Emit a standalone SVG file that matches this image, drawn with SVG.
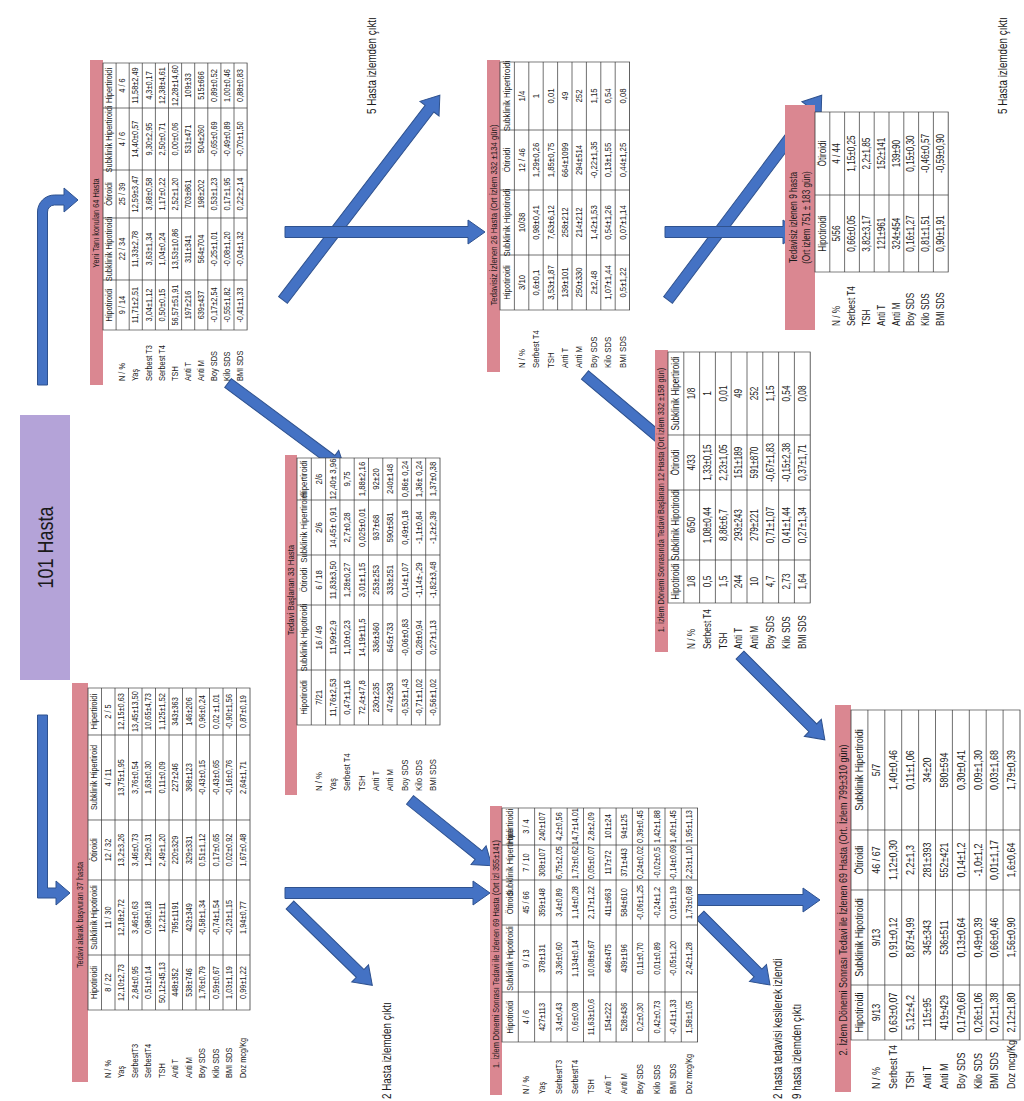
<svg xmlns="http://www.w3.org/2000/svg" width="1024" height="1101" viewBox="0 0 1024 1101">
<style>
.f{font-family:'Liberation Sans',Arial,sans-serif;fill:#1a1a1a;text-anchor:middle;dominant-baseline:central}
.hdr{fill:#da8791}
.grid{fill:#fff;stroke:#3a3a3a;stroke-width:0.8}
.gl{fill:none;stroke:#3a3a3a;stroke-width:0.8}
.l{text-anchor:start}
.side{font-size:12px;text-anchor:start}
.arr path{fill:#4472c4;stroke:#2f528f;stroke-width:1}
</style>
<rect width="1024" height="1101" fill="#fff"/>
<g id="connectors" class="arr">
<path d="M37.5,385 L37.5,212 A17,17 0 0 1 54.5,195 L64,195 L64,188 L78,200 L64,212 L64,205 L54.5,205 A7,7 0 0 0 47.5,212 L47.5,385 Z"/>
<path d="M37.5,715 L47.5,715 L47.5,888 L56,888 L56,881 L70,893 L56,905 L56,898 L37.5,898 Z"/>
<g transform="translate(283,300) rotate(-52.56)"><path d="M0,-5.5H241V-12L258,0L241,12V5.5H0Z"/></g>
<g transform="translate(285,232)"><path d="M0,-5.5H183V-12L200,0L183,12V5.5H0Z"/></g>
<g transform="translate(228,383) rotate(36.6)"><path d="M0,-5.5H129V-12L146,0L129,12V5.5H0Z"/></g>
<g transform="translate(668,300) rotate(-53.1)"><path d="M0,-5.5H239V-12L256,0L239,12V5.5H0Z"/></g>
<g transform="translate(665,232)"><path d="M0,-5.5H118V-12L135,0L118,12V5.5H0Z"/></g>
<g transform="translate(585,375) rotate(40.1)"><path d="M0,-5.5H107V-12L124,0L107,12V5.5H0Z"/></g>
<g transform="translate(410,800) rotate(38.8)"><path d="M0,-5.5H88V-12L105,0L88,12V5.5H0Z"/></g>
<g transform="translate(285,893)"><path d="M0,-5.5H188V-12L205,0L188,12V5.5H0Z"/></g>
<g transform="translate(290,905) rotate(44.3)"><path d="M0,-5.5H98V-12L115,0L98,12V5.5H0Z"/></g>
<g transform="translate(740,655) rotate(45)"><path d="M0,-5.5H103V-12L120,0L103,12V5.5H0Z"/></g>
<g transform="translate(693,900)"><path d="M0,-5.5H110V-12L127,0L110,12V5.5H0Z"/></g>
<g transform="translate(700,915) rotate(45)"><path d="M0,-5.5H82V-12L99,0L82,12V5.5H0Z"/></g>
</g>
<g class="f" transform="translate(0,1101) rotate(-90)">
<g id="n101"><rect x="421" y="20" width="265" height="50" fill="#b4a3d8"/><text transform="translate(553.5,45) scale(0.82,1)" font-size="22">101 Hasta</text></g>
<g id="notes">
<text class="side" transform="translate(987,372) scale(0.82,1)">5 Hasta izlemden çıktı</text>
<text class="side" transform="translate(987,1003) scale(0.82,1)">5 Hasta izlemden çıktı</text>
<text class="side" transform="translate(2,387) scale(0.82,1)">2 Hasta izlemden çıktı</text>
<text class="side" transform="translate(2,778) scale(0.82,1)">2 hasta tedavisi kesilerek izlendi</text>
<text class="side" transform="translate(2,797) scale(0.82,1)">9 hasta izlemden çıktı</text>
</g>

<g id="t1" transform="translate(771,103) scale(0.82,1)" font-size="9">
<rect class="hdr" x="-67.07" y="-13" width="396.34" height="13"/>
<text x="130.49" y="-6.5">Yeni Tanı konulan 64 Hasta</text>
<rect class="grid" x="0" y="0" width="325.61" height="144.1"/>
<path class="gl" d="M0,13.1H325.61M0,26.2H325.61M0,39.3H325.61M0,52.4H325.61M0,65.5H325.61M0,78.6H325.61M0,91.7H325.61M0,104.8H325.61M0,117.9H325.61M0,131H325.61M60.98,0V144.1M136.59,0V144.1M195.12,0V144.1M270.73,0V144.1"/>
<g transform="translate(0,6.55)"><text x="30.49">Hipotiroidi</text><text x="98.78">Subklinik Hipotiroidi</text><text x="165.85">Ötiroidi</text><text x="232.93">Subklinik Hipertiroidi</text><text x="298.17">Hipertiroidi</text></g>
<g transform="translate(0,19.65)"><text class="l" x="-62.2">N / %</text><text x="30.49">9 / 14</text><text x="98.78">22 / 34</text><text x="165.85">25 / 39</text><text x="232.93">4 / 6</text><text x="298.17">4 / 6</text></g>
<g transform="translate(0,32.75)"><text class="l" x="-62.2">Yaş</text><text x="30.49">11,71±2,51</text><text x="98.78">11,33±2,78</text><text x="165.85">12,59±3,47</text><text x="232.93">14,40±0,57</text><text x="298.17">11,58±2,49</text></g>
<g transform="translate(0,45.85)"><text class="l" x="-62.2">Serbest T3</text><text x="30.49">3,04±1,12</text><text x="98.78">3,63±1,34</text><text x="165.85">3,68±0,58</text><text x="232.93">9,30±2,95</text><text x="298.17">4,3±0,17</text></g>
<g transform="translate(0,58.95)"><text class="l" x="-62.2">Serbest T4</text><text x="30.49">0,50±0,15</text><text x="98.78">1,04±0,24</text><text x="165.85">1,17±0,22</text><text x="232.93">2,50±0,71</text><text x="298.17">12,38±4,61</text></g>
<g transform="translate(0,72.05)"><text class="l" x="-62.2">TSH</text><text x="30.49">56,57±51,91</text><text x="98.78">13,53±10,86</text><text x="165.85">2,52±1,20</text><text x="232.93">0,00±0,06</text><text x="298.17">12,28±14,60</text></g>
<g transform="translate(0,85.15)"><text class="l" x="-62.2">Anti T</text><text x="30.49">197±216</text><text x="98.78">311±341</text><text x="165.85">703±861</text><text x="232.93">531±471</text><text x="298.17">109±33</text></g>
<g transform="translate(0,98.25)"><text class="l" x="-62.2">Anti M</text><text x="30.49">639±437</text><text x="98.78">564±704</text><text x="165.85">198±202</text><text x="232.93">504±260</text><text x="298.17">515±666</text></g>
<g transform="translate(0,111.35)"><text class="l" x="-62.2">Boy SDS</text><text x="30.49">-0,17±2,54</text><text x="98.78">-0,25±1,01</text><text x="165.85">0,53±1,23</text><text x="232.93">-0,65±0,69</text><text x="298.17">0,89±0,52</text></g>
<g transform="translate(0,124.45)"><text class="l" x="-62.2">Kilo SDS</text><text x="30.49">-0,55±1,82</text><text x="98.78">-0,08±1,20</text><text x="165.85">0,17±1,95</text><text x="232.93">-0,49±0,89</text><text x="298.17">1,00±0,46</text></g>
<g transform="translate(0,137.55)"><text class="l" x="-62.2">BMI SDS</text><text x="30.49">-0,41±1,33</text><text x="98.78">-0,04±1,32</text><text x="165.85">0,22±2,14</text><text x="232.93">-0,70±1,50</text><text x="298.17">0,88±0,83</text></g>
</g>

<g id="t2" transform="translate(376,297) scale(0.82,1)" font-size="9.5">
<rect class="hdr" x="-85.37" y="-12" width="414.63" height="12"/>
<text x="164.63" y="-6">Tedavi Başlanan 33 Hasta</text>
<rect class="grid" x="0" y="0" width="325.61" height="143"/>
<path class="gl" d="M0,14.3H325.61M0,28.6H325.61M0,42.9H325.61M0,57.2H325.61M0,71.5H325.61M0,85.8H325.61M0,100.1H325.61M0,114.4H325.61M0,128.7H325.61M67.07,0V143M146.34,0V143M207.32,0V143M274.39,0V143"/>
<g transform="translate(0,7.15)"><text x="33.54">Hipotiroidi</text><text x="106.71">Subklinik Hipotiroidi</text><text x="176.83">Ötiroidi</text><text x="240.85">Subklinik Hipertiroidi</text><text x="300">Hipertiroidi</text></g>
<g transform="translate(0,21.45)"><text class="l" x="-80.49">N / %</text><text x="33.54">7/21</text><text x="106.71">16 / 49</text><text x="176.83">6 / 18</text><text x="240.85">2/6</text><text x="300">2/6</text></g>
<g transform="translate(0,35.75)"><text class="l" x="-80.49">Yaş</text><text x="33.54">11,76±2,53</text><text x="106.71">11,99±2,9</text><text x="176.83">11,83±3,50</text><text x="240.85">14,45± 0,91</text><text x="300">12,40± 3,96</text></g>
<g transform="translate(0,50.05)"><text class="l" x="-80.49">Serbest T4</text><text x="33.54">0,47±1,16</text><text x="106.71">1,10±0,23</text><text x="176.83">1,28±0,27</text><text x="240.85">2,7±0,28</text><text x="300">9,75</text></g>
<g transform="translate(0,64.35)"><text class="l" x="-80.49">TSH</text><text x="33.54">72,4±47,8</text><text x="106.71">14,19±11,5</text><text x="176.83">3,01±1,15</text><text x="240.85">0,025±0,01</text><text x="300">1,88±2,16</text></g>
<g transform="translate(0,78.65)"><text class="l" x="-80.49">Anti T</text><text x="33.54">230±235</text><text x="106.71">336±360</text><text x="176.83">253±253</text><text x="240.85">937±68</text><text x="300">92±20</text></g>
<g transform="translate(0,92.95)"><text class="l" x="-80.49">Anti M</text><text x="33.54">474±293</text><text x="106.71">645±733</text><text x="176.83">333±251</text><text x="240.85">590±581</text><text x="300">240±148</text></g>
<g transform="translate(0,107.25)"><text class="l" x="-80.49">Boy SDS</text><text x="33.54">-0,53±1,43</text><text x="106.71">-0,06±0,83</text><text x="176.83">0,14±1,07</text><text x="240.85">0,49±0,18</text><text x="300">0,86± 0,24</text></g>
<g transform="translate(0,121.55)"><text class="l" x="-80.49">Kilo SDS</text><text x="33.54">-0,71±1,02</text><text x="106.71">0,28±0,94</text><text x="176.83">-1,14±-,29</text><text x="240.85">-1,1±0,84</text><text x="300">1,36± 0,24</text></g>
<g transform="translate(0,135.85)"><text class="l" x="-80.49">BMI SDS</text><text x="33.54">-0,56±1,02</text><text x="106.71">0,27±1,13</text><text x="176.83">-1,82±3,48</text><text x="240.85">-1,2±2,39</text><text x="300">1,37±0,38</text></g>
</g>

<g id="t3" transform="translate(91,88) scale(0.82,1)" font-size="9">
<rect class="hdr" x="-87.8" y="-16" width="486.59" height="16"/>
<text x="115.85" y="-7.5">Tedavi alarak başvuran 37  hasta</text>
<rect class="grid" x="0" y="0" width="392.68" height="162"/>
<path class="gl" d="M0,13.5H392.68M0,27H392.68M0,40.5H392.68M0,54H392.68M0,67.5H392.68M0,81H392.68M0,94.5H392.68M0,108H392.68M0,121.5H392.68M0,135H392.68M0,148.5H392.68M67.07,0V162M158.54,0V162M231.71,0V162M335.37,0V162"/>
<g transform="translate(0,6.75)"><text x="33.54">Hipotiroidi</text><text x="112.8">Subklinik Hipotiroidi</text><text x="195.12">Ötiroidi</text><text x="283.54">Subklinik Hipertiroid</text><text x="364.02">Hipertiroidi</text></g>
<g transform="translate(0,20.25)"><text class="l" x="-82.93">N / %</text><text x="33.54">8 / 22</text><text x="112.8">11 / 30</text><text x="195.12">12 / 32</text><text x="283.54">4 / 11</text><text x="364.02">2 / 5</text></g>
<g transform="translate(0,33.75)"><text class="l" x="-82.93">Yaş</text><text x="33.54">12,10±2,73</text><text x="112.8">12,18±2,72</text><text x="195.12">13,2±3,26</text><text x="283.54">13,75±1,95</text><text x="364.02">12,15±0,63</text></g>
<g transform="translate(0,47.25)"><text class="l" x="-82.93">SerbestT3</text><text x="33.54">2,84±0,95</text><text x="112.8">3,46±0,63</text><text x="195.12">3,46±0,73</text><text x="283.54">3,76±0,54</text><text x="364.02">13,45±13,50</text></g>
<g transform="translate(0,60.75)"><text class="l" x="-82.93">SerbestT4</text><text x="33.54">0,51±0,14</text><text x="112.8">0,98±0,18</text><text x="195.12">1,29±0,31</text><text x="283.54">1,63±0,30</text><text x="364.02">10,65±4,73</text></g>
<g transform="translate(0,74.25)"><text class="l" x="-82.93">TSH</text><text x="33.54">50,12±45,13</text><text x="112.8">12,21±11</text><text x="195.12">2,49±1,20</text><text x="283.54">0,11±0,09</text><text x="364.02">1,125±1,52</text></g>
<g transform="translate(0,87.75)"><text class="l" x="-82.93">Anti T</text><text x="33.54">448±352</text><text x="112.8">795±1191</text><text x="195.12">220±329</text><text x="283.54">227±246</text><text x="364.02">343±363</text></g>
<g transform="translate(0,101.25)"><text class="l" x="-82.93">Anti M</text><text x="33.54">538±746</text><text x="112.8">423±349</text><text x="195.12">329±331</text><text x="283.54">368±123</text><text x="364.02">146±206</text></g>
<g transform="translate(0,114.75)"><text class="l" x="-82.93">Boy SDS</text><text x="33.54">1,76±0,79</text><text x="112.8">-0,58±1,34</text><text x="195.12">0,51±1,12</text><text x="283.54">-0,43±0,15</text><text x="364.02">0,96±0,24</text></g>
<g transform="translate(0,128.25)"><text class="l" x="-82.93">Kilo SDS</text><text x="33.54">0,59±0,67</text><text x="112.8">-0,74±1,54</text><text x="195.12">0,17±0,65</text><text x="283.54">-0,43±0,65</text><text x="364.02">0,02 ±1,01</text></g>
<g transform="translate(0,141.75)"><text class="l" x="-82.93">BMI SDS</text><text x="33.54">1,03±1,19</text><text x="112.8">-0,23±1,15</text><text x="195.12">0,02±0,92</text><text x="283.54">-0,16±0,76</text><text x="364.02">-0,90±1,56</text></g>
<g transform="translate(0,155.25)"><text class="l" x="-82.93">Doz mcg/Kg</text><text x="33.54">0,99±1,22</text><text x="112.8">1,94±0,77</text><text x="195.12">1,67±0,48</text><text x="283.54">2,64±1,71</text><text x="364.02">0,87±0,19</text></g>
</g>

<g id="t4" transform="translate(59,502) scale(0.82,1)" font-size="9">
<rect class="hdr" x="-64.63" y="-12" width="352.44" height="12"/>
<text x="107.3" y="-6">1. İzlem Dönemi Sonrası Tedavi ile İzlenen 69 Hasta  (Ort İzl 355±141)</text>
<rect class="grid" x="0" y="0" width="285.37" height="195.6"/>
<path class="gl" d="M0,16.3H285.37M0,32.6H285.37M0,48.9H285.37M0,65.2H285.37M0,81.5H285.37M0,97.8H285.37M0,114.1H285.37M0,130.4H285.37M0,146.7H285.37M0,163H285.37M0,179.3H285.37M60.98,0V195.6M142.68,0V195.6M197.56,0V195.6M240.24,0V195.6"/>
<g transform="translate(0,8.15)"><text x="30.49">Hipotiroidi</text><text x="101.83">Subklinik Hipotiroidi</text><text x="170.12">Ötiroidi</text><text x="218.9">Subklinik Hipertiroidi</text><text x="262.8">Hipertiroidi</text></g>
<g transform="translate(0,24.45)"><text class="l" x="-63.41">N / %</text><text x="30.49">4 / 6</text><text x="101.83">9 / 13</text><text x="170.12">45 / 66</text><text x="218.9">7 / 10</text><text x="262.8">3 / 4</text></g>
<g transform="translate(0,40.75)"><text class="l" x="-63.41">Yaş</text><text x="30.49">427±113</text><text x="101.83">378±131</text><text x="170.12">359±148</text><text x="218.9">308±107</text><text x="262.8">240±107</text></g>
<g transform="translate(0,57.05)"><text class="l" x="-63.41">SerbestT3</text><text x="30.49">3,4±0,43</text><text x="101.83">3,36±0,60</text><text x="170.12">3,4±0,89</text><text x="218.9">6,75±2,05</text><text x="262.8">4,2±0,56</text></g>
<g transform="translate(0,73.35)"><text class="l" x="-63.41">SerbestT4</text><text x="30.49">0,6±0,08</text><text x="101.83">1,134±0,14</text><text x="170.12">1,14±0,28</text><text x="218.9">1,73±0,62</text><text x="262.8">14,7±14,01</text></g>
<g transform="translate(0,89.65)"><text class="l" x="-63.41">TSH</text><text x="30.49">11,63±10,6</text><text x="101.83">10,08±6,67</text><text x="170.12">2,17±1,22</text><text x="218.9">0,05±0,07</text><text x="262.8">2,8±2,09</text></g>
<g transform="translate(0,105.95)"><text class="l" x="-63.41">Anti T</text><text x="30.49">154±222</text><text x="101.83">646±475</text><text x="170.12">411±663</text><text x="218.9">117±72</text><text x="262.8">101±24</text></g>
<g transform="translate(0,122.25)"><text class="l" x="-63.41">Anti M</text><text x="30.49">528±436</text><text x="101.83">439±196</text><text x="170.12">584±610</text><text x="218.9">371±443</text><text x="262.8">94±125</text></g>
<g transform="translate(0,138.55)"><text class="l" x="-63.41">Boy SDS</text><text x="30.49">0,2±0,30</text><text x="101.83">0,11±0,70</text><text x="170.12">-0,06±1,25</text><text x="218.9">0,24±0,02</text><text x="262.8">0,39±0,45</text></g>
<g transform="translate(0,154.85)"><text class="l" x="-63.41">Kilo SDS</text><text x="30.49">0,42±0,73</text><text x="101.83">0,01±0,89</text><text x="170.12">-0,24±1,2</text><text x="218.9">-0,02±0,5</text><text x="262.8">1,42±1,88</text></g>
<g transform="translate(0,171.15)"><text class="l" x="-63.41">BMI SDS</text><text x="30.49">-0,41±1,33</text><text x="101.83">-0,05±1,20</text><text x="170.12">0,19±1,19</text><text x="218.9">-0,14±0,69</text><text x="262.8">1,40±1,45</text></g>
<g transform="translate(0,187.45)"><text class="l" x="-63.41">Doz mcg/Kg</text><text x="30.49">1,58±1,05</text><text x="101.83">2,42±1,28</text><text x="170.12">1,73±0,68</text><text x="218.9">2,23±1,10</text><text x="262.8">1,95±1,13</text></g>
</g>

<g id="t5" transform="translate(791,500) scale(0.82,1)" font-size="9.5">
<rect class="hdr" x="-75.61" y="-13" width="380.49" height="13"/>
<text x="115.85" y="-6.5">Tedavisiz İzlenen 26 Hasta (Ort İzlem 332 ±134 gün)</text>
<rect class="grid" x="0" y="0" width="302.44" height="129.6"/>
<path class="gl" d="M0,14.4H302.44M0,28.8H302.44M0,43.2H302.44M0,57.6H302.44M0,72H302.44M0,86.4H302.44M0,100.8H302.44M0,115.2H302.44M67.07,0V129.6M146.34,0V129.6M219.51,0V129.6"/>
<g transform="translate(0,7.2)"><text x="33.54">Hipotiroidi</text><text x="106.71">Subklinik Hipotiroidi</text><text x="182.93">Ötiroidi</text><text x="260.98">Subklinik Hipertiroidi</text></g>
<g transform="translate(0,21.6)"><text class="l" x="-70.73">N / %</text><text x="33.54">3/10</text><text x="106.71">10/38</text><text x="182.93">12 / 46</text><text x="260.98">1/4</text></g>
<g transform="translate(0,36)"><text class="l" x="-70.73">Serbest T4</text><text x="33.54">0,6±0,1</text><text x="106.71">0,98±0,41</text><text x="182.93">1,29±0,26</text><text x="260.98">1</text></g>
<g transform="translate(0,50.4)"><text class="l" x="-70.73">TSH</text><text x="33.54">3,53±1,87</text><text x="106.71">7,63±6,12</text><text x="182.93">1,85±0,75</text><text x="260.98">0,01</text></g>
<g transform="translate(0,64.8)"><text class="l" x="-70.73">Anti T</text><text x="33.54">139±101</text><text x="106.71">258±212</text><text x="182.93">664±1099</text><text x="260.98">49</text></g>
<g transform="translate(0,79.2)"><text class="l" x="-70.73">Anti M</text><text x="33.54">250±330</text><text x="106.71">214±212</text><text x="182.93">294±514</text><text x="260.98">252</text></g>
<g transform="translate(0,93.6)"><text class="l" x="-70.73">Boy SDS</text><text x="33.54">2±2,48</text><text x="106.71">1,42±1,53</text><text x="182.93">-0,22±1,35</text><text x="260.98">1,15</text></g>
<g transform="translate(0,108)"><text class="l" x="-70.73">Kilo SDS</text><text x="33.54">1,07±1,44</text><text x="106.71">0,54±1,26</text><text x="182.93">0,13±1,55</text><text x="260.98">0,54</text></g>
<g transform="translate(0,122.4)"><text class="l" x="-70.73">BMI SDS</text><text x="33.54">0,5±1,22</text><text x="106.71">0,07±1,14</text><text x="182.93">0,44±1,25</text><text x="260.98">0,08</text></g>
</g>

<g id="t6" transform="translate(498,668) scale(0.82,1)" font-size="10">
<rect class="hdr" x="-59.76" y="-13" width="368.29" height="13"/>
<text x="125.61" y="-6.5" font-size="9">1. İzlem Dönemi Sonrasında Tedavi Başlanan 12 Hasta  (Ort İzlem 332 ±158 gün)</text>
<rect class="grid" x="0" y="0" width="306.1" height="142.2"/>
<path class="gl" d="M0,15.8H306.1M0,31.6H306.1M0,47.4H306.1M0,63.2H306.1M0,79H306.1M0,94.8H306.1M0,110.6H306.1M0,126.4H306.1M52.44,0V142.2M137.8,0V142.2M204.88,0V142.2"/>
<g transform="translate(0,7.9)"><text x="26.22">Hipotiroidi</text><text x="95.12">Subklinik Hipotiroidi</text><text x="171.34">Ötiroidi</text><text x="255.49">Subklinik Hipertiroidi</text></g>
<g transform="translate(0,23.7)"><text class="l" x="-56.1">N / %</text><text x="26.22">1/8</text><text x="95.12">6/50</text><text x="171.34">4/33</text><text x="255.49">1/8</text></g>
<g transform="translate(0,39.5)"><text class="l" x="-56.1">Serbest T4</text><text x="26.22">0,5</text><text x="95.12">1,08±0,44</text><text x="171.34">1,33±0,15</text><text x="255.49">1</text></g>
<g transform="translate(0,55.3)"><text class="l" x="-56.1">TSH</text><text x="26.22">1,5</text><text x="95.12">8,86±6,7</text><text x="171.34">2,23±1,05</text><text x="255.49">0,01</text></g>
<g transform="translate(0,71.1)"><text class="l" x="-56.1">Anti T</text><text x="26.22">244</text><text x="95.12">293±243</text><text x="171.34">151±189</text><text x="255.49">49</text></g>
<g transform="translate(0,86.9)"><text class="l" x="-56.1">Anti M</text><text x="26.22">10</text><text x="95.12">279±221</text><text x="171.34">591±870</text><text x="255.49">252</text></g>
<g transform="translate(0,102.7)"><text class="l" x="-56.1">Boy SDS</text><text x="26.22">4,7</text><text x="95.12">0,71±1,07</text><text x="171.34">-0,67±1,83</text><text x="255.49">1,15</text></g>
<g transform="translate(0,118.5)"><text class="l" x="-56.1">Kilo SDS</text><text x="26.22">2,73</text><text x="95.12">0,41±1,44</text><text x="171.34">-0,15±2,38</text><text x="255.49">0,54</text></g>
<g transform="translate(0,134.3)"><text class="l" x="-56.1">BMI SDS</text><text x="26.22">1,64</text><text x="95.12">0,27±1,34</text><text x="171.34">0,37±1,71</text><text x="255.49">0,08</text></g>
</g>

<g id="t7" transform="translate(829,815) scale(0.82,1)" font-size="10">
<rect class="hdr" x="-70.73" y="-30" width="274.39" height="30"/>
<text x="66.46" y="-21.5">Tedavisiz izlenen 9 hasta</text>
<text x="66.46" y="-8.5">(Ort izlem 751 ± 183 gün)</text>
<rect class="grid" x="0" y="0" width="195.12" height="133.2"/>
<path class="gl" d="M0,14.8H195.12M0,29.6H195.12M0,44.4H195.12M0,59.2H195.12M0,74H195.12M0,88.8H195.12M0,103.6H195.12M0,118.4H195.12M93.9,0V133.2"/>
<g transform="translate(0,7.4)"><text x="46.95">Hipotiroidi</text><text x="144.51">Ötiroidi</text></g>
<g transform="translate(0,22.2)"><text class="l" x="-65.85">N / %</text><text x="46.95">5/56</text><text x="144.51">4 / 44</text></g>
<g transform="translate(0,37)"><text class="l" x="-65.85">Serbest T4</text><text x="46.95">0,66±0,05</text><text x="144.51">1,15±0,25</text></g>
<g transform="translate(0,51.8)"><text class="l" x="-65.85">TSH</text><text x="46.95">3,82±3,17</text><text x="144.51">2,2±1,85</text></g>
<g transform="translate(0,66.6)"><text class="l" x="-65.85">Anti T</text><text x="46.95">121±961</text><text x="144.51">152±141</text></g>
<g transform="translate(0,81.4)"><text class="l" x="-65.85">Anti M</text><text x="46.95">324±454</text><text x="144.51">139±90</text></g>
<g transform="translate(0,96.2)"><text class="l" x="-65.85">Boy SDS</text><text x="46.95">0,16±1,27</text><text x="144.51">0,15±0,30</text></g>
<g transform="translate(0,111)"><text class="l" x="-65.85">Kilo SDS</text><text x="46.95">0,81±1,51</text><text x="144.51">-0,46±0,57</text></g>
<g transform="translate(0,125.8)"><text class="l" x="-65.85">BMI SDS</text><text x="46.95">0,90±1,91</text><text x="144.51">-0,59±0,90</text></g>
</g>

<g id="t8" transform="translate(61,851) scale(0.82,1)" font-size="11">
<rect class="hdr" x="-63.41" y="-16" width="471.95" height="16"/>
<text x="170.73" y="-8">2. İzlem Dönemi Sonrası Tedavi ile İzlenen 69 Hasta (Ort. İzlem 799±310  gün)</text>
<rect class="grid" x="0" y="0" width="402.44" height="169"/>
<path class="gl" d="M0,16.9H402.44M0,33.8H402.44M0,50.7H402.44M0,67.6H402.44M0,84.5H402.44M0,101.4H402.44M0,118.3H402.44M0,135.2H402.44M0,152.1H402.44M67.07,0V169M182.93,0V169M256.1,0V169"/>
<g transform="translate(0,8.45)"><text x="33.54">Hipotiroidi</text><text x="125">Subklinik Hipotiroidi</text><text x="219.51">Ötiroidi</text><text x="329.27">Subklinik Hipertiroidi</text></g>
<g transform="translate(0,25.35)"><text class="l" x="-59.76">N / %</text><text x="33.54">9/13</text><text x="125">9/13</text><text x="219.51">46 / 67</text><text x="329.27">5/7</text></g>
<g transform="translate(0,42.25)"><text class="l" x="-59.76">Serbest T4</text><text x="33.54">0,63±0,07</text><text x="125">0,91±0,12</text><text x="219.51">1,12±0,30</text><text x="329.27">1,40±0,46</text></g>
<g transform="translate(0,59.15)"><text class="l" x="-59.76">TSH</text><text x="33.54">5,12±4,2</text><text x="125">8,87±4,99</text><text x="219.51">2,2±1,3</text><text x="329.27">0,11±1,06</text></g>
<g transform="translate(0,76.05)"><text class="l" x="-59.76">Anti T</text><text x="33.54">115±95</text><text x="125">345±343</text><text x="219.51">281±393</text><text x="329.27">34±20</text></g>
<g transform="translate(0,92.95)"><text class="l" x="-59.76">Anti M</text><text x="33.54">419±429</text><text x="125">536±511</text><text x="219.51">552±421</text><text x="329.27">580±594</text></g>
<g transform="translate(0,109.85)"><text class="l" x="-59.76">Boy SDS</text><text x="33.54">0,17±0,60</text><text x="125">0,13±0,64</text><text x="219.51">0,14±1,2</text><text x="329.27">0,30±0,41</text></g>
<g transform="translate(0,126.75)"><text class="l" x="-59.76">Kilo SDS</text><text x="33.54">0,26±1,06</text><text x="125">0,49±0,39</text><text x="219.51">-1,0±1,2</text><text x="329.27">0,09±1,30</text></g>
<g transform="translate(0,143.65)"><text class="l" x="-59.76">BMI SDS</text><text x="33.54">0,21±1,38</text><text x="125">0,66±0,46</text><text x="219.51">0,01±1,17</text><text x="329.27">0,03±1,68</text></g>
<g transform="translate(0,160.55)"><text class="l" x="-59.76">Doz mcg/Kg</text><text x="33.54">2,12±1,80</text><text x="125">1,56±0,90</text><text x="219.51">1,6±0,64</text><text x="329.27">1,79±0,39</text></g>
</g>
</g>
</svg>
